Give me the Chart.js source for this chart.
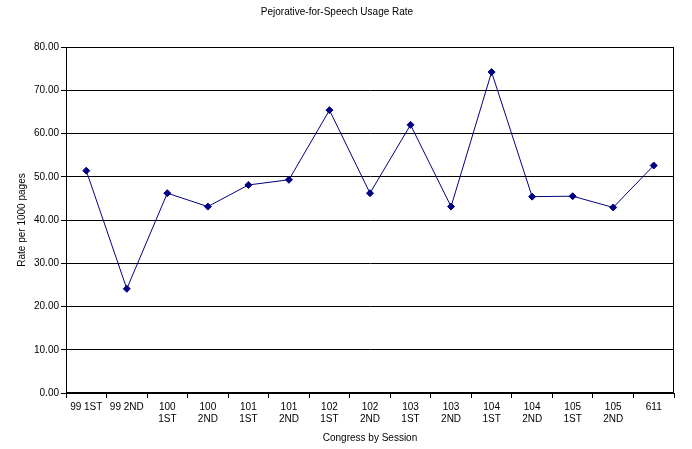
<!DOCTYPE html>
<html>
<head>
<meta charset="utf-8">
<style>
html,body{margin:0;padding:0;background:#fff;}
#wrap{width:692px;height:449px;position:relative;}
</style>
<script src="https://cdn.jsdelivr.net/npm/chart.js@4/dist/chart.umd.min.js"></script>
</head>
<body>
<div id="wrap"><canvas id="c" width="692" height="449"></canvas></div>
<script>
const categories = ['99 1ST','99 2ND',['100','1ST'],['100','2ND'],['101','1ST'],['101','2ND'],['102','1ST'],['102','2ND'],['103','1ST'],['103','2ND'],['104','1ST'],['104','2ND'],['105','1ST'],['105','2ND'],'611'];
const rates = [51.4, 24.1, 46.2, 43.1, 48.1, 49.3, 65.4, 46.2, 62.0, 43.1, 74.2, 45.4, 45.5, 42.9, 52.6];
const yTicks = [0,10,20,30,40,50,60,70,80];

const FONT = "'Liberation Sans', Arial, sans-serif";
const NAVY = '#000080';

const frame = {
  id: 'frame',
  afterDraw(chart) {
    const {ctx, chartArea: a} = chart;
    ctx.save();
    ctx.strokeStyle = '#000';
    ctx.lineWidth = 1;
    ctx.strokeRect(Math.round(a.left)+0.5, Math.round(a.top)+0.5, Math.round(a.right-a.left)-1, Math.round(a.bottom-a.top)-1);
    ctx.restore();
  }
};

new Chart(document.getElementById('c'), {
  type: 'line',
  data: {
    labels: categories,
    datasets: [{
      data: rates,
      borderColor: NAVY,
      backgroundColor: NAVY,
      borderWidth: 1,
      pointStyle: 'rectRot',
      pointRadius: 3.5,
      pointBorderWidth: 1,
      pointBackgroundColor: NAVY,
      pointBorderColor: NAVY,
      tension: 0,
      fill: false
    }]
  },
  options: {
    responsive: false,
    animation: false,
    devicePixelRatio: 1,
    layout: { padding: { left: 0, right: 18, top: 0, bottom: 0 } },
    plugins: {
      legend: { display: false },
      tooltip: { enabled: false },
      title: {
        display: true,
        text: 'Pejorative-for-Speech Usage Rate',
        color: '#000',
        font: { family: FONT, size: 10, weight: 'normal' },
        padding: { top: 6, bottom: 29 }
      }
    },
    scales: {
      x: {
        type: 'category',
        offset: true,
        afterFit(s) { s.height = 56; },
        grid: { display: true, drawOnChartArea: false, drawTicks: true, tickLength: 5, offset: true, color: '#000' },
        border: { display: true, color: '#000', width: 1 },
        ticks: { color: '#000', font: { family: FONT, size: 10 }, padding: 3, maxRotation: 0, minRotation: 0, autoSkip: false },
        title: { display: true, text: 'Congress by Session', color: '#000', font: { family: FONT, size: 10 }, padding: { top: 0, bottom: 5 } }
      },
      y: {
        min: 0,
        max: 80,
        afterFit(s) { s.width = 66; },
        afterBuildTicks(s) { s.ticks = yTicks.map(v => ({ value: v })); },
        grid: { color: '#000', drawTicks: true, tickLength: 5, lineWidth: 1 },
        border: { display: true, color: '#000', width: 1 },
        ticks: { color: '#000', font: { family: FONT, size: 10 }, padding: 2, callback: v => Number(v).toFixed(2) },
        title: { display: true, text: 'Rate per 1000 pages', color: '#000', font: { family: FONT, size: 10 }, padding: { top: 16, bottom: 0 } }
      }
    }
  },
  plugins: [frame]
});
</script>
</body>
</html>
